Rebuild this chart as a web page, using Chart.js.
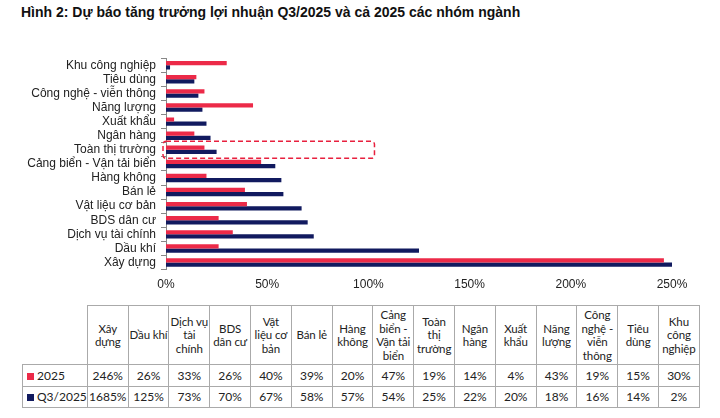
<!DOCTYPE html>
<html>
<head>
<meta charset="utf-8">
<script src="https://cdn.jsdelivr.net/npm/chart.js"></script>
<style>
  body { margin: 0; width: 720px; height: 418px; background: #fff; font-family: "Liberation Sans", Arial, sans-serif; position: relative; overflow: hidden; }
  #title { position: absolute; left: 21px; top: 4px; font-size: 14px; font-weight: bold; color: #111; white-space: nowrap; }
  #box { position: absolute; left: 0; top: 46px; width: 720px; height: 254px; }
  table { position: absolute; left: 22px; top: 305px; border-collapse: collapse; font-family: Lato, "Open Sans", sans-serif; font-size: 12px; color: #222; table-layout: fixed; }
  td { border: 1px solid #aaa; text-align: center; padding: 0; line-height: 13.5px; overflow: hidden; white-space: nowrap; }
  tr.head td { height: 58px; white-space: pre; font-size: 11.5px; letter-spacing: -0.1px; }
  tr.r1 td { height: 21px; }
  tr.r2 td { height: 20px; }
  td.lab { text-align: left; padding-left: 4px; }
  td.blank { border: none; border-bottom: 1px solid #aaa; }
  .sw { display: inline-block; width: 7px; height: 7px; margin-right: 3px; vertical-align: 0; }
</style>
</head>
<body>
<div id="title">Hình 2: Dự báo tăng trưởng lợi nhuận Q3/2025 và cả 2025 các nhóm ngành</div>
<div id="box"><canvas id="chartId"></canvas></div>
<table id="tbl"></table>
<script>
  // thứ tự như bảng số liệu
  const categories = ['Xây dựng', 'Dầu khí', 'Dịch vụ tài chính', 'BDS dân cư', 'Vật liệu cơ bản', 'Bán lẻ', 'Hàng không',
    'Cảng biển - Vận tải biển', 'Toàn thị trường', 'Ngân hàng', 'Xuất khẩu', 'Năng lượng', 'Công nghệ - viễn thông', 'Tiêu dùng', 'Khu công nghiệp'];
  // tiêu đề cột trong bảng (xuống dòng như bản gốc)
  const tableHeaders = ['Xây\ndựng', 'Dầu khí', 'Dịch vụ\ntài\nchính', 'BDS\ndân cư', 'Vật\nliệu cơ\nbản', 'Bán lẻ', 'Hàng\nkhông',
    'Cảng\nbiển -\nVận tải\nbiển', 'Toàn\nthị\ntrường', 'Ngân\nhàng', 'Xuất\nkhẩu', 'Năng\nlượng', 'Công\nnghệ -\nviễn\nthông', 'Tiêu\ndùng', 'Khu\ncông\nnghiệp'];
  const values2025 = [246, 26, 33, 26, 40, 39, 20, 47, 19, 14, 4, 43, 19, 15, 30];
  const valuesQ3 = [1685, 125, 73, 70, 67, 58, 57, 54, 25, 22, 20, 18, 16, 14, 2];
  const xTicks = [0, 50, 100, 150, 200, 250];
  const seriesNames = ['2025', 'Q3/2025'];
  const colors = ['#ec2a48', '#111a5f'];
  const highlight = 'Toàn thị trường';

  // bảng bên dưới
  const tbl = document.getElementById('tbl');
  let html = '<colgroup><col style="width:61px">' + categories.map(() => '<col style="width:40.8px">').join('') + '</colgroup>';
  html += '<tr class="head"><td class="blank"></td>' + tableHeaders.map(c => '<td>' + c + '</td>').join('') + '</tr>';
  [values2025, valuesQ3].forEach((vals, i) => {
    html += '<tr class="r' + (i + 1) + '"><td class="lab"><span class="sw" style="background:' + colors[i] + '"></span>' + seriesNames[i] + '</td>' +
      vals.map(v => '<td>' + v + '%</td>').join('') + '</tr>';
  });
  tbl.innerHTML = html;

  // biểu đồ: đảo thứ tự để Khu công nghiệp ở trên cùng
  const labels = categories.slice().reverse();
  const d1 = values2025.slice().reverse();
  const d2 = valuesQ3.slice().reverse();

  const dashBox = {
    id: 'dashBox',
    afterDraw(chart) {
      const ctx = chart.ctx;
      const y = chart.scales.y, x = chart.scales.x;
      const cy = y.getPixelForValue(labels.indexOf(highlight));
      const l = chart.chartArea.left - 3, r = x.getPixelForValue(103);
      const t = cy - 8.5, h = 17;
      ctx.save();
      ctx.strokeStyle = '#e8203e';
      ctx.lineWidth = 1.5;
      ctx.setLineDash([5, 3]);
      ctx.beginPath();
      ctx.roundRect(l, t, r - l, h, 3);
      ctx.stroke();
      ctx.restore();
    }
  };

  new Chart(document.getElementById('chartId'), {
    type: 'bar',
    data: {
      labels: labels,
      datasets: [
        { label: seriesNames[0], data: d1, backgroundColor: colors[0] },
        { label: seriesNames[1], data: d2, backgroundColor: colors[1] }
      ]
    },
    options: {
      indexAxis: 'y',
      responsive: true,
      maintainAspectRatio: false,
      animation: false,
      layout: { padding: { top: 6, right: 48, bottom: 0, left: 0 } },
      plugins: { legend: { display: false }, tooltip: { enabled: false } },
      datasets: { bar: { categoryPercentage: 0.6, barPercentage: 1 } },
      scales: {
        x: {
          min: 0, max: 250,
          afterBuildTicks: s => { s.ticks = xTicks.map(v => ({ value: v })); },
          grid: { display: false, drawTicks: false },
          border: { display: false },
          ticks: { color: '#222', font: { family: 'Liberation Sans', size: 12 }, padding: 8, callback: v => v + '%' }
        },
        y: {
          afterFit: s => { s.width = 166; },
          grid: { drawOnChartArea: false, tickLength: 5, color: '#888' },
          border: { color: '#888' },
          ticks: { color: '#222', font: { family: 'Liberation Sans', size: 12 }, padding: 5, autoSkip: false }
        }
      }
    },
    plugins: [dashBox]
  });
</script>
</body>
</html>
